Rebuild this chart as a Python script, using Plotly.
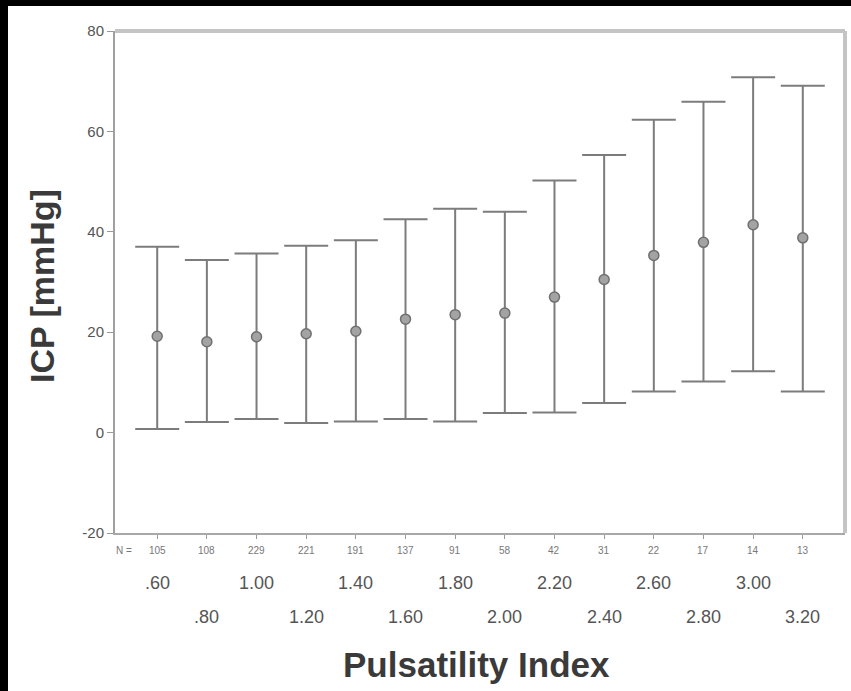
import plotly.graph_objects as go

# Pulsatility index classes and ICP summary per class
pi_labels = [".60", ".80", "1.00", "1.20", "1.40", "1.60", "1.80",
             "2.00", "2.20", "2.40", "2.60", "2.80", "3.00", "3.20"]
n_counts = [105, 108, 229, 221, 191, 137, 91, 58, 42, 31, 22, 17, 14, 13]
icp_mean = [19.2, 18.1, 19.1, 19.7, 20.2, 22.6, 23.5, 23.8, 27.0, 30.5, 35.3, 37.9, 41.4, 38.8]
icp_upper = [37.0, 34.4, 35.7, 37.2, 38.3, 42.5, 44.6, 44.0, 50.2, 55.3, 62.3, 65.9, 70.8, 69.1]
icp_lower = [0.7, 2.1, 2.7, 1.9, 2.2, 2.7, 2.2, 3.9, 4.0, 5.9, 8.2, 10.2, 12.2, 8.2]
y_ticks = [-20, 0, 20, 40, 60, 80]
y_tick_text = ["-20", "0", "20", "40", "60", "80"]

W, H = 851, 691
ML, MR, MT, MB = 115, 6, 31, 158
PW, PH = W - ML - MR, H - MT - MB

xs = list(range(len(pi_labels)))
err_plus = [u - m for u, m in zip(icp_upper, icp_mean)]
err_minus = [m - l for m, l in zip(icp_mean, icp_lower)]

fig = go.Figure()
fig.add_trace(go.Scatter(
    x=xs, y=icp_mean, mode="markers",
    marker=dict(symbol="circle", size=10, color="#a3a3a3",
                line=dict(color="#707070", width=1.5)),
    error_y=dict(type="data", symmetric=False, array=err_plus,
                 arrayminus=err_minus, width=22, thickness=2, color="#7c7c7c"),
    showlegend=False,
))


def px_x(p):
    return (p - ML) / PW


def px_y(p):
    return (MT + PH - p) / PH


annotations = []
# sample size row
annotations.append(dict(x=px_x(124), y=px_y(550), xref="paper", yref="paper",
                        text="N =", showarrow=False, xanchor="center", yanchor="middle",
                        font=dict(size=10, color="#777777")))
for i, n in enumerate(n_counts):
    annotations.append(dict(x=i, y=px_y(550), xref="x", yref="paper", text=str(n),
                            showarrow=False, xanchor="center", yanchor="middle",
                            font=dict(size=10, color="#777777")))
# staggered category labels
for i, lab in enumerate(pi_labels):
    row_y = 583 if i % 2 == 0 else 617
    annotations.append(dict(x=i, y=px_y(row_y), xref="x", yref="paper", text=lab,
                            showarrow=False, xanchor="center", yanchor="middle",
                            font=dict(size=18, color="#555555")))
# axis titles
annotations.append(dict(x=px_x(476), y=px_y(664), xref="paper", yref="paper",
                        text="<b>Pulsatility Index</b>", showarrow=False,
                        xanchor="center", yanchor="middle",
                        font=dict(size=35, color="#3a3a3a", family="Liberation Sans")))
annotations.append(dict(x=px_x(42), y=px_y(286), xref="paper", yref="paper",
                        text="<b>ICP [mmHg]</b>", showarrow=False, textangle=-90,
                        xanchor="center", yanchor="middle",
                        font=dict(size=34, color="#3a3a3a", family="Liberation Sans")))

shapes = [
    # light frame on top and right
    dict(type="line", xref="paper", yref="paper", x0=0, x1=1, y0=1, y1=1,
         line=dict(color="#c4c4c4", width=4)),
    dict(type="line", xref="paper", yref="paper", x0=1, x1=1, y0=0, y1=1,
         line=dict(color="#c4c4c4", width=4)),
    # dark border strips at the top and left edges
    dict(type="rect", xref="paper", yref="paper", x0=px_x(-5), x1=px_x(8),
         y0=px_y(H + 5), y1=px_y(-5), fillcolor="black", line=dict(width=0), layer="above"),
    dict(type="rect", xref="paper", yref="paper", x0=px_x(-5), x1=px_x(W + 5),
         y0=px_y(6), y1=px_y(-5), fillcolor="black", line=dict(width=0), layer="above"),
]

fig.update_layout(
    width=W, height=H,
    margin=dict(l=ML, r=MR, t=MT, b=MB),
    paper_bgcolor="white", plot_bgcolor="white",
    font=dict(family="Liberation Sans, Arial, sans-serif", color="#555555"),
    xaxis=dict(range=[-0.85, len(pi_labels) - 0.15], tickvals=xs, showticklabels=False,
               ticks="outside", ticklen=4, tickcolor="#999999", showgrid=False,
               zeroline=False, showline=True, linecolor="#a8a8a8", linewidth=2),
    yaxis=dict(range=[-20, 80], tickvals=y_ticks, ticktext=y_tick_text,
               ticks="outside", ticklen=6,
               tickcolor="#999999", tickfont=dict(size=15, color="#555555"),
               showgrid=False, zeroline=False, showline=True, linecolor="#a0a0a0",
               linewidth=2),
    annotations=annotations,
    shapes=shapes,
)

fig.write_html("out.html")
